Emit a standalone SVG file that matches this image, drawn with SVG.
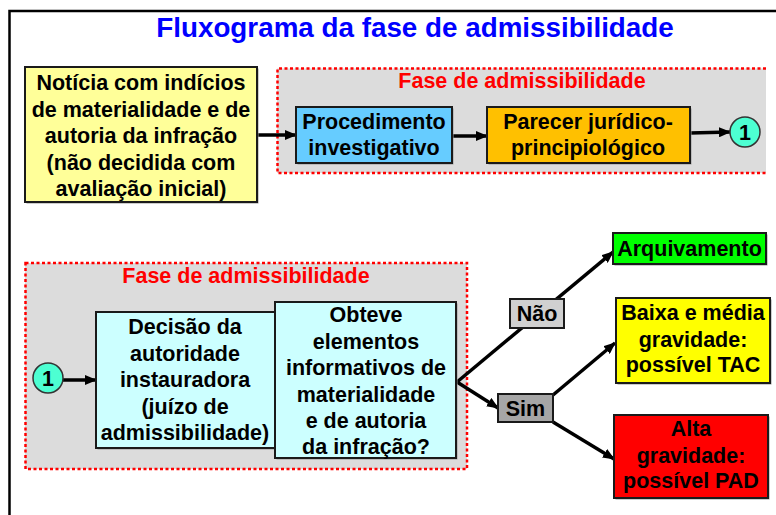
<svg xmlns="http://www.w3.org/2000/svg" width="776" height="515" viewBox="0 0 776 515">
<style>
  .t{font-family:"Liberation Sans",Arial,sans-serif;font-weight:bold;font-size:21.5px;fill:#000;text-anchor:middle}
  .phase{font-family:"Liberation Sans",Arial,sans-serif;font-weight:bold;font-size:21.5px;fill:#FF0000;text-anchor:middle}
  .title{font-family:"Liberation Sans",Arial,sans-serif;font-weight:bold;font-size:27.8px;fill:#0000FF;text-anchor:middle}
  .box{stroke:#1a1a1a;stroke-width:2}
  .shadow{fill:#999}
  .dot{fill:none;stroke:#FF0000;stroke-width:2.5;stroke-dasharray:3 2.5}
  .zone{fill:#DCDCDC}
  .conn line{stroke:#000;stroke-width:3.5}
  .arr{marker-end:url(#ah)}
</style>
<defs>
  <marker id="ah" markerUnits="userSpaceOnUse" markerWidth="12" markerHeight="10" refX="11" refY="5" orient="auto">
    <path d="M0,0 L12,5 L0,10 z" fill="#000"/>
  </marker>
</defs>
<rect x="0" y="0" width="776" height="515" fill="#fff"/>
<rect x="9.5" y="11" width="800" height="600" fill="none" stroke="#000" stroke-width="2.5"/>
<text class="title" x="415" y="37">Fluxograma da fase de admissibilidade</text>

<g id="zone-top">
  <rect class="zone" x="277" y="68.5" width="489" height="104.5"/>
  <path class="dot" d="M766,68.5 H277.5 V173 H766"/>
  <text class="phase" x="522" y="88">Fase de admissibilidade</text>
</g>
<g id="zone-bottom">
  <rect class="zone" x="25" y="263" width="442" height="206"/>
  <rect class="dot" x="25.5" y="263" width="441.5" height="206"/>
  <text class="phase" x="246" y="283">Fase de admissibilidade</text>
</g>

<g class="conn" id="connectors">
  <line class="arr" x1="257" y1="135" x2="296" y2="135"/>
  <line class="arr" x1="452" y1="136" x2="487" y2="136"/>
  <line class="arr" x1="690" y1="133" x2="730" y2="132"/>
  <line class="arr" x1="63" y1="380" x2="96" y2="380"/>
  <line class="arr" x1="457" y1="382" x2="613" y2="252"/>
  <line class="arr" x1="457" y1="382" x2="498" y2="408"/>
  <line class="arr" x1="553" y1="395" x2="615" y2="343"/>
  <line class="arr" x1="553" y1="422" x2="614" y2="459"/>
</g>

<g id="noticia">
  <rect class="shadow" x="26.5" y="68.5" width="232" height="135"/>
  <rect class="box" x="25" y="67" width="232" height="135" fill="#FFFF99"/>
  <text class="t" x="141" y="90">Notícia com indícios</text>
  <text class="t" x="141" y="117">de materialidade e de</text>
  <text class="t" x="141" y="143">autoria da infração</text>
  <text class="t" x="141" y="170">(não decidida com</text>
  <text class="t" x="141" y="196">avaliação inicial)</text>
</g>
<g id="procedimento">
  <rect class="shadow" x="297.5" y="108.5" width="156" height="56"/>
  <rect class="box" x="296" y="107" width="156" height="56" fill="#66CCFF"/>
  <text class="t" x="374" y="129">Procedimento</text>
  <text class="t" x="374" y="155">investigativo</text>
</g>
<g id="parecer">
  <rect class="shadow" x="488.5" y="108.5" width="203" height="56"/>
  <rect class="box" x="487" y="107" width="203" height="56" fill="#FFC000"/>
  <text class="t" x="588" y="129">Parecer jurídico-</text>
  <text class="t" x="588" y="155">principiológico</text>
</g>
<g id="conector1-top">
  <circle cx="745" cy="132" r="15" fill="#4DFFD2" stroke="#333" stroke-width="1.5"/>
  <text class="t" x="745" y="140">1</text>
</g>
<g id="conector1-bottom">
  <circle cx="48" cy="378" r="15" fill="#4DFFD2" stroke="#333" stroke-width="1.5"/>
  <text class="t" x="48" y="386">1</text>
</g>
<g id="decisao">
  <rect class="shadow" x="97.5" y="313.5" width="179" height="136"/>
  <rect class="box" x="96" y="312" width="179" height="136" fill="#CCFFFF"/>
  <text class="t" x="185" y="334">Decisão da</text>
  <text class="t" x="185" y="361">autoridade</text>
  <text class="t" x="185" y="387">instauradora</text>
  <text class="t" x="185" y="414">(juízo de</text>
  <text class="t" x="185" y="440">admissibilidade)</text>
</g>
<g id="obteve">
  <rect class="shadow" x="276.5" y="303.5" width="181" height="156"/>
  <rect class="box" x="275" y="302" width="181" height="156" fill="#CCFFFF"/>
  <text class="t" x="366" y="322">Obteve</text>
  <text class="t" x="366" y="349">elementos</text>
  <text class="t" x="366" y="375">informativos de</text>
  <text class="t" x="366" y="402">materialidade</text>
  <text class="t" x="366" y="428">e de autoria</text>
  <text class="t" x="366" y="454">da infração?</text>
</g>
<g id="nao">
  <rect class="box" x="510" y="299" width="54" height="29" fill="#D0D0D0"/>
  <text class="t" x="537" y="321">Não</text>
</g>
<g id="sim">
  <rect class="box" x="498" y="394" width="55" height="28" fill="#A6A6A6"/>
  <text class="t" x="525.5" y="416">Sim</text>
</g>
<g id="arquivamento">
  <rect class="shadow" x="614.5" y="234.5" width="153" height="31"/>
  <rect class="box" x="613" y="233" width="153" height="31" fill="#00FF00"/>
  <text class="t" x="689.5" y="256">Arquivamento</text>
</g>
<g id="baixa">
  <rect class="shadow" x="617.5" y="299.5" width="154" height="85"/>
  <rect class="box" x="616" y="298" width="154" height="85" fill="#FFFF00"/>
  <text class="t" x="693" y="320">Baixa e média</text>
  <text class="t" x="693" y="347">gravidade:</text>
  <text class="t" x="693" y="372">possível TAC</text>
</g>
<g id="alta">
  <rect class="shadow" x="615.5" y="416.5" width="154" height="83"/>
  <rect class="box" x="614" y="415" width="154" height="83" fill="#FF0000"/>
  <text class="t" x="691" y="436">Alta</text>
  <text class="t" x="691" y="463">gravidade:</text>
  <text class="t" x="691" y="488">possível PAD</text>
</g>
</svg>
